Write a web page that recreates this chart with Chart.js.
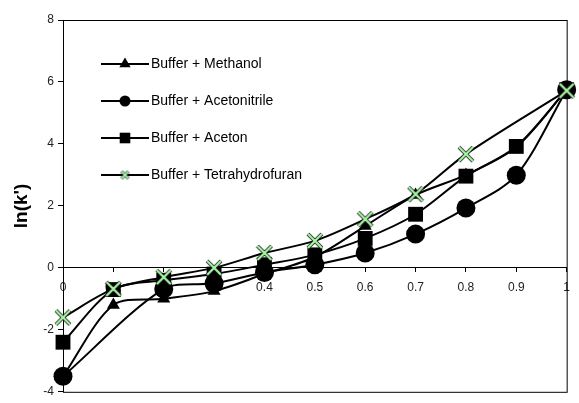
<!DOCTYPE html>
<html>
<head>
<meta charset="utf-8">
<script src="https://cdn.jsdelivr.net/npm/chart.js@4/dist/chart.umd.min.js"></script>
<style>
  html, body { margin: 0; padding: 0; background: #fff; }
  #wrap { width: 579px; height: 403px; }
</style>
</head>
<body>
<div id="wrap"><canvas id="chart"></canvas></div>
<script>
// fraction of organic modifier (x) and ln(k') for each mobile phase
const xValues = [0, 0.1, 0.2, 0.3, 0.4, 0.5, 0.6, 0.7, 0.8, 0.9, 1];
const xTickLabels = ['0', '0.1', '0.2', '0.3', '0.4', '0.5', '0.6', '0.7', '0.8', '0.9', '1'];
const seriesNames = ['Buffer + Methanol', 'Buffer + Acetonitrile', 'Buffer + Aceton', 'Buffer + Tetrahydrofuran'];
const methanol = [-3.5, -1.2, -1.0, -0.75, -0.2, 0.35, 1.35, 2.35, 3.0, 3.9, 5.75];
const acetonitrile = [-3.5, null, -0.68, -0.5, -0.15, 0.1, 0.48, 1.09, 1.93, 2.99, 5.75];
const aceton = [-2.4, -0.7, -0.4, -0.2, 0.1, 0.42, 0.95, 1.73, 2.96, 3.92, 5.75];
const thf = [-1.6, -0.68, -0.3, 0.0, 0.48, 0.87, 1.57, 2.38, 3.67, null, 5.72];

const FONT = "'Liberation Sans', Arial, sans-serif";
const GREEN = '#a8f5a8';

// X marker: green cross with a dark edge
function makeCross(size, edge, core) {
    const c = document.createElement('canvas');
    c.width = size; c.height = size;
    const g = c.getContext('2d');
    const m = 2;
    g.lineCap = 'butt';
    g.beginPath();
    g.moveTo(m, m); g.lineTo(size - m, size - m);
    g.moveTo(size - m, m); g.lineTo(m, size - m);
    g.strokeStyle = '#000'; g.lineWidth = edge; g.stroke();
    g.strokeStyle = GREEN; g.lineWidth = core; g.stroke();
    return c;
}
const crossBig = makeCross(18, 3.8, 2.4);
const crossSmall = makeCross(11, 3, 1.8);

function toPoints(values) {
    return xValues.map((x, i) => ({ x: x, y: values[i] }));
}

function makeSet(label, values, style, radius, order) {
    return {
        label: label,
        data: toPoints(values),
        borderColor: '#000',
        borderWidth: 2,
        backgroundColor: '#000',
        pointBackgroundColor: '#000',
        pointBorderColor: '#000',
        pointBorderWidth: 0,
        pointStyle: style,
        pointRadius: radius,
        pointHoverRadius: radius,
        tension: 0.3,
        spanGaps: true,
        clip: false,
        order: order
    };
}

const legendStyles = ['triangle', 'circle', 'rect', crossSmall];
const legendRadius = [6.5, 5.5, 7.5, 6];

// legend drawn inside the plot, line through marker
const insideLegend = {
    id: 'insideLegend',
    afterDatasetsDraw(chart) {
        const ctx = chart.ctx;
        const x0 = 101, x1 = 149, mx = 125;
        const rows = [64, 101, 138, 175];
        ctx.save();
        seriesNames.forEach((name, i) => {
            const y = rows[i];
            ctx.strokeStyle = '#000';
            ctx.lineWidth = 2;
            ctx.beginPath();
            ctx.moveTo(x0, y); ctx.lineTo(x1, y);
            ctx.stroke();
            ctx.fillStyle = '#000';
            Chart.helpers.drawPoint(ctx, { pointStyle: legendStyles[i], radius: legendRadius[i], borderWidth: 0 }, mx, y);
            ctx.font = '14px ' + FONT;
            ctx.textBaseline = 'middle';
            ctx.textAlign = 'left';
            ctx.fillText(name, 151, y);
        });
        ctx.restore();
    }
};

// frame around the plot area
const frame = {
    id: 'frame',
    beforeDatasetsDraw(chart) {
        const a = chart.chartArea;
        const ctx = chart.ctx;
        ctx.save();
        ctx.strokeStyle = '#000';
        ctx.lineWidth = 1;
        ctx.strokeRect(a.left + 0.5, a.top + 0.5, a.right - a.left, a.bottom - a.top);
        ctx.restore();
    }
};

new Chart(document.getElementById('chart'), {
    type: 'line',
    data: {
        datasets: [
            makeSet(seriesNames[0], methanol, 'triangle', 7.5, 3),
            makeSet(seriesNames[1], acetonitrile, 'circle', 9.5, 2),
            makeSet(seriesNames[2], aceton, 'rect', 10.5, 1),
            makeSet(seriesNames[3], thf, crossBig, 9, 0)
        ]
    },
    options: {
        responsive: true,
        maintainAspectRatio: false,
        animation: false,
        layout: { padding: { top: 20, right: 7, bottom: 10, left: 0 } },
        plugins: {
            legend: { display: false },
            tooltip: { enabled: false }
        },
        scales: {
            x: {
                type: 'linear',
                position: { y: 0 },
                min: 0,
                max: 1,
                grid: { display: true, drawOnChartArea: false, drawTicks: true, tickLength: 4, color: '#000' },
                border: { display: true, color: '#000', width: 1 },
                ticks: {
                    stepSize: 0.1,
                    autoSkip: false,
                    maxRotation: 0,
                    padding: 9,
                    color: '#222',
                    font: { family: FONT, size: 12 },
                    callback: (v, i) => xTickLabels[i]
                }
            },
            y: {
                min: -4,
                max: 8,
                grid: { display: true, drawOnChartArea: false, drawTicks: true, tickLength: 5, color: '#000' },
                border: { display: true, color: '#000', width: 1 },
                ticks: {
                    stepSize: 2,
                    padding: 4,
                    color: '#222',
                    font: { family: FONT, size: 12 }
                },
                title: {
                    display: true,
                    text: "ln(k')",
                    color: '#000',
                    padding: { top: 10, bottom: 0 },
                    font: { family: FONT, size: 19, weight: 'bold' }
                },
                afterFit(scale) { scale.width = 63; }
            }
        }
    },
    plugins: [frame, insideLegend]
});
</script>
</body>
</html>
